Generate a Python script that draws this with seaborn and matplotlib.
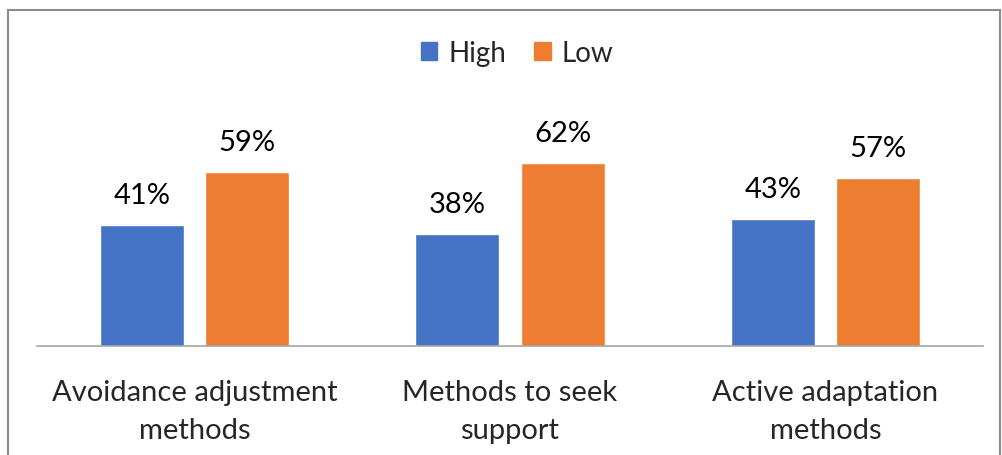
import matplotlib
matplotlib.use("Agg")
import matplotlib.pyplot as plt
from matplotlib.patches import Rectangle
import seaborn as sns
import pandas as pd

categories = ["Avoidance adjustment\nmethods", "Methods to seek\nsupport", "Active adaptation\nmethods"]
high = [41, 38, 43]
low = [59, 62, 57]
series = ["High", "Low"]
colors = ["#4472C4", "#ED7D31"]

df = pd.DataFrame({
    "category": categories * 2,
    "group": ["High"] * 3 + ["Low"] * 3,
    "value": high + low,
})

sns.set_style("white")
plt.rcParams["font.family"] = ["Lato", "DejaVu Sans"]

fig = plt.figure(figsize=(10.02, 4.56), dpi=100)
ax = fig.add_axes([37 / 1002, 1 - 347 / 456, (983 - 37) / 1002, (347 - 60) / 456])

sns.barplot(data=df, x="category", y="value", hue="group", hue_order=series,
            palette=colors, width=0.667, gap=0.2, ax=ax, legend=True,
            saturation=1, errorbar=None)

ax.set_ylim(0, 97.3)
ax.set_xlim(-0.5, 2.5)
ax.set_xlabel("")
ax.set_ylabel("")
ax.set_yticks([])
for s in ["top", "right", "left"]:
    ax.spines[s].set_visible(False)
ax.spines["bottom"].set_color("#A6A6A6")
ax.spines["bottom"].set_linewidth(1.2)
ax.tick_params(axis="x", length=0, pad=24, labelsize=21)
for t in ax.get_xticklabels():
    t.set_linespacing(1.55)

for cont in ax.containers:
    ax.bar_label(cont, labels=[f"{int(v)}%" for v in cont.datavalues],
                 padding=12, fontsize=21, color="black")

leg = ax.get_legend()
leg.remove()
handles = [Rectangle((0, 0), 1, 1, color=c) for c in colors]
fig.legend(handles, series, loc="center", bbox_to_anchor=(517 / 1002, 1 - 54 / 456),
           ncol=2, frameon=False, fontsize=20, handlelength=0.6, handleheight=0.6,
           handletextpad=0.4, columnspacing=1.0)

fig.patches.append(Rectangle((8 / 1002, -0.1), (1000 - 8) / 1002, 1.1 - 11 / 456,
                             transform=fig.transFigure, fill=False,
                             edgecolor="#8C8C8C", linewidth=1.5))

fig.savefig("out.png", dpi=100)
